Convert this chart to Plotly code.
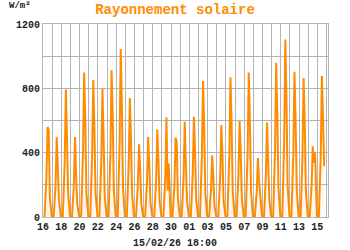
import plotly.graph_objects as go
from datetime import datetime, timedelta

# Daily readings (W/m²), one value per day from 16/01/26 to 15/02/26
days = [datetime(2026, 1, 16) + timedelta(days=i) for i in range(31)]
r09 = [250, 200, 350, 200, 400, 400, 350, 400, 450, 330, 200, 220, 240, 250, 200, 250,
       270, 380, 170, 250, 380, 260, 400, 160, 260, 420, 480, 400, 380, 200, 390]
r12 = [560, 498, 793, 498, 899, 851, 795, 913, 1044, 739, 452, 498, 544, 619, 494, 592,
       623, 845, 384, 571, 868, 596, 899, 367, 587, 959, 1104, 903, 864, 440, 876]
r15 = [540, 280, 500, 250, 600, 540, 500, 620, 700, 480, 300, 320, 350, 166, 465, 332,
       420, 560, 250, 380, 580, 400, 600, 228, 390, 640, 740, 600, 580, 336, 600]
r18 = [120, 100, 150, 80, 150, 150, 130, 160, 180, 130, 80, 90, 100, 332, 120, 100,
       110, 150, 70, 100, 160, 110, 160, 150, 110, 180, 200, 170, 160, 399, 316]
night = 0

# Assemble time series: night (04h), 09h, 12h, 15h, 18h, night (23h)
xs, ys = [], []
for i, d in enumerate(days):
    pts = [(4, night), (9, r09[i]), (12, r12[i]), (15, r15[i]), (18, r18[i])]
    if i < len(days) - 1:
        pts.append((23, night))
    for h, v in pts:
        xs.append(d + timedelta(hours=h))
        ys.append(v)

tick_days = [datetime(2026, 1, 16) + timedelta(days=i) for i in range(32)]
tick_text = [f"{d.day:02d}" if i % 2 == 0 else "" for i, d in enumerate(tick_days)]
y_vals = [0, 200, 400, 600, 800, 1000, 1200]
y_text = ["0", "", "400", "", "800", "", "1200"]

FONT = "Liberation Mono"
ORANGE = "#FF8C00"
GRID = "#b4b4b4"

fig = go.Figure()
fig.add_trace(go.Scatter(
    x=xs, y=ys, mode="lines",
    line=dict(color=ORANGE, width=2),
    fill="tozeroy", fillcolor="rgba(255,220,180,0.2)",
    hoverinfo="skip",
))

plot_w = 350 - 43 - 22
plot_h = 250 - 24 - 33

fig.update_layout(
    width=350, height=250,
    margin=dict(l=43, r=22, t=24, b=33),
    paper_bgcolor="white", plot_bgcolor="white",
    showlegend=False,
    font=dict(family=FONT, size=10, color="#222222", weight="bold"),
    title=dict(text="Rayonnement solaire", x=0.5, xanchor="center", y=0.965, yanchor="middle",
               font=dict(family=FONT, size=14, color=ORANGE, weight="bold")),
    xaxis=dict(
        type="date",
        range=[datetime(2026, 1, 16), datetime(2026, 2, 16, 4)],
        tickvals=tick_days, ticktext=tick_text, ticks="",
        showgrid=True, gridcolor=GRID, gridwidth=1,
        showline=True, linecolor=GRID, mirror=True, linewidth=1,
        zeroline=False, tickfont=dict(size=10),
    ),
    yaxis=dict(
        range=[0, 1200], tickvals=y_vals, ticktext=y_text, ticks="",
        showgrid=True, gridcolor=GRID, gridwidth=1,
        showline=True, linecolor=GRID, mirror=True, linewidth=1,
        zeroline=False, tickfont=dict(size=10),
    ),
    annotations=[
        dict(text="W/m²", xref="paper", yref="paper",
             x=(20 - 43) / plot_w, y=(217 - 6) / plot_h, showarrow=False,
             font=dict(size=9), xanchor="center", yanchor="middle"),
        dict(text="15/02/26 18:00", xref="paper", yref="paper",
             x=(175 - 43) / plot_w, y=(217 - 243) / plot_h,
             showarrow=False, font=dict(size=10), xanchor="center", yanchor="middle"),
    ],
)

fig.write_html("out.html")
